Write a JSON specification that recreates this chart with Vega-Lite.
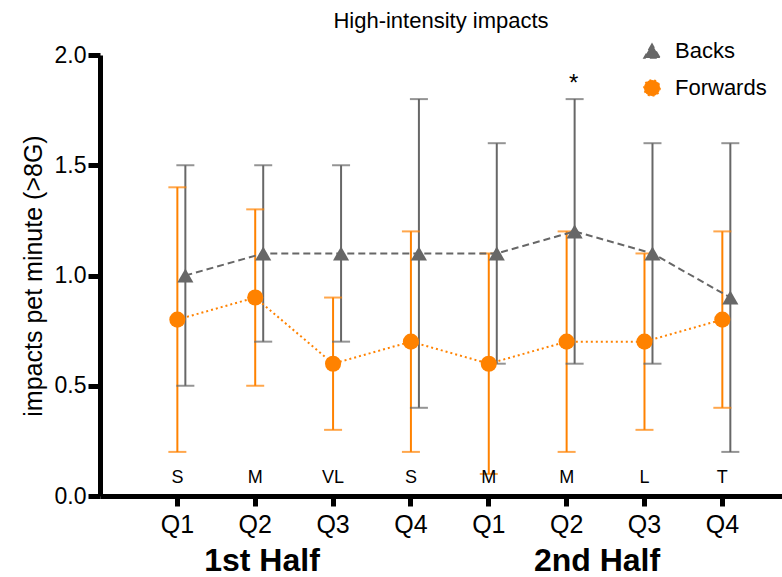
{
  "$schema": "https://vega.github.io/schema/vega-lite/v6.json",
  "autosize": {"type": "none"},
  "width": 682,
  "height": 441,
  "padding": {"left": 100, "top": 55, "right": 0, "bottom": 81},
  "config": {"view": {"stroke": null}, "font": "Liberation Sans"},
  "title": {"text": "High-intensity impacts", "fontSize": 22, "fontWeight": "normal", "font": "Liberation Sans", "anchor": "middle", "offset": 7, "color": "black"},
  "layer": [
    {
      "data": {"values": [
        {"cat": "1Q1", "group": "Forwards", "mean": 0.8, "lo": 0.2, "hi": 1.4},
        {"cat": "1Q2", "group": "Forwards", "mean": 0.9, "lo": 0.5, "hi": 1.3},
        {"cat": "1Q3", "group": "Forwards", "mean": 0.6, "lo": 0.3, "hi": 0.9},
        {"cat": "1Q4", "group": "Forwards", "mean": 0.7, "lo": 0.2, "hi": 1.2},
        {"cat": "2Q1", "group": "Forwards", "mean": 0.6, "lo": 0.1, "hi": 1.1},
        {"cat": "2Q2", "group": "Forwards", "mean": 0.7, "lo": 0.2, "hi": 1.2},
        {"cat": "2Q3", "group": "Forwards", "mean": 0.7, "lo": 0.3, "hi": 1.1},
        {"cat": "2Q4", "group": "Forwards", "mean": 0.8, "lo": 0.4, "hi": 1.2},
        {"cat": "1Q1", "group": "Backs", "mean": 1.0, "lo": 0.5, "hi": 1.5},
        {"cat": "1Q2", "group": "Backs", "mean": 1.1, "lo": 0.7, "hi": 1.5},
        {"cat": "1Q3", "group": "Backs", "mean": 1.1, "lo": 0.7, "hi": 1.5},
        {"cat": "1Q4", "group": "Backs", "mean": 1.1, "lo": 0.4, "hi": 1.8},
        {"cat": "2Q1", "group": "Backs", "mean": 1.1, "lo": 0.6, "hi": 1.6},
        {"cat": "2Q2", "group": "Backs", "mean": 1.2, "lo": 0.6, "hi": 1.8},
        {"cat": "2Q3", "group": "Backs", "mean": 1.1, "lo": 0.6, "hi": 1.6},
        {"cat": "2Q4", "group": "Backs", "mean": 0.9, "lo": 0.2, "hi": 1.6}
      ]},
      "encoding": {
        "x": {
          "field": "cat", "type": "nominal",
          "scale": {"type": "band", "domain": ["1Q1", "1Q2", "1Q3", "1Q4", "2Q1", "2Q2", "2Q3", "2Q4"], "paddingInner": 0, "paddingOuter": 0.38, "align": 0.65},
          "axis": {"title": null, "labelExpr": "substring(datum.label, 1)", "labelAngle": 0, "labelFontSize": 25, "labelColor": "black", "labelPadding": 6, "tickSize": 10, "tickWidth": 5, "tickColor": "black", "domainColor": "black", "domainWidth": 5, "labelFont": "Liberation Sans"}
        }
      },
      "layer": [
        {
          "mark": {"type": "rule", "strokeWidth": 2},
          "encoding": {
            "xOffset": {"field": "group", "type": "nominal", "scale": {"type": "point", "domain": ["Forwards", "Backs"], "range": [38.9, 46.9], "padding": 0}},
            "y": {"field": "lo", "type": "quantitative", "scale": {"domain": [0, 2], "nice": false},
              "axis": {"title": "impacts pet minute (>8G)", "values": [0, 0.5, 1, 1.5, 2], "format": ".1f", "grid": false, "tickSize": 12, "tickWidth": 5, "tickColor": "black", "domainColor": "black", "domainWidth": 5, "labelFontSize": 23, "labelPadding": 2, "labelColor": "black", "labelOverlap": false, "titleFontSize": 25, "titleFontWeight": "normal", "titlePadding": 8, "titleColor": "black", "labelFont": "Liberation Sans", "titleFont": "Liberation Sans"}},
            "y2": {"field": "hi"},
            "color": {"field": "group", "type": "nominal", "scale": {"domain": ["Backs", "Forwards"], "range": ["#676767", "#FF8200"]}}
          }
        },
        {
          "mark": {"type": "tick", "thickness": 2, "size": 18, "orient": "horizontal"},
          "encoding": {
            "xOffset": {"field": "group", "type": "nominal"},
            "y": {"field": "lo", "type": "quantitative"},
            "color": {"field": "group", "type": "nominal"}
          }
        },
        {
          "mark": {"type": "tick", "thickness": 2, "size": 18, "orient": "horizontal"},
          "encoding": {
            "xOffset": {"field": "group", "type": "nominal"},
            "y": {"field": "hi", "type": "quantitative"},
            "color": {"field": "group", "type": "nominal"}
          }
        },
        {
          "mark": {"type": "line", "strokeWidth": 2},
          "encoding": {
            "xOffset": {"field": "group", "type": "nominal"},
            "y": {"field": "mean", "type": "quantitative"},
            "color": {"field": "group", "type": "nominal"},
            "strokeDash": {"field": "group", "type": "nominal", "scale": {"domain": ["Backs", "Forwards"], "range": [[7, 4], [2, 3]]}, "legend": null}
          }
        },
        {
          "mark": {"type": "point", "filled": true, "size": 260, "opacity": 1},
          "encoding": {
            "xOffset": {"field": "group", "type": "nominal"},
            "y": {"field": "mean", "type": "quantitative"},
            "color": {"field": "group", "type": "nominal",
              "legend": {"title": null, "orient": "none", "legendX": 541, "legendY": -15, "labelFontSize": 22, "labelFont": "Liberation Sans", "symbolSize": 260, "symbolOpacity": 1, "rowPadding": 14, "labelOffset": 12, "labelColor": "black",
                "encode": {"symbols": {"update": {"opacity": {"value": 1}, "fillOpacity": {"value": 1}}}}}},
            "shape": {"field": "group", "type": "nominal", "scale": {"domain": ["Backs", "Forwards"], "range": ["triangle-up", "circle"]},
              "legend": {"title": null, "orient": "none", "legendX": 541, "legendY": -15, "labelFontSize": 22, "labelFont": "Liberation Sans", "symbolSize": 260, "symbolOpacity": 1, "rowPadding": 14, "labelOffset": 12, "labelColor": "black",
                "encode": {"symbols": {"update": {"opacity": {"value": 1}, "fillOpacity": {"value": 1}}}}}}
          }
        },
        {
          "data": {"values": [
            {"cat": "1Q1", "eff": "S"}, {"cat": "1Q2", "eff": "M"}, {"cat": "1Q3", "eff": "VL"}, {"cat": "1Q4", "eff": "S"},
            {"cat": "2Q1", "eff": "M"}, {"cat": "2Q2", "eff": "M"}, {"cat": "2Q3", "eff": "L"}, {"cat": "2Q4", "eff": "T"}
          ]},
          "mark": {"type": "text", "fontSize": 18, "baseline": "middle", "color": "black", "font": "Liberation Sans"},
          "encoding": {
            "y": {"datum": 0.08, "type": "quantitative"},
            "text": {"field": "eff"}
          }
        },
        {
          "data": {"values": [{"cat": "2Q2", "sig": "*"}]},
          "mark": {"type": "text", "fontSize": 24, "baseline": "middle", "dx": 7, "dy": 7, "color": "black", "font": "Liberation Sans"},
          "encoding": {
            "y": {"datum": 1.9, "type": "quantitative"},
            "text": {"field": "sig"}
          }
        }
      ]
    },
    {
      "data": {"values": [{"half": "1st Half"}, {"half": "2nd Half"}]},
      "mark": {"type": "text", "opacity": 0},
      "encoding": {
        "x": {"field": "half", "type": "nominal",
          "scale": {"type": "band", "domain": ["1st Half", "2nd Half"], "paddingInner": 0.5, "paddingOuter": 0.268, "align": 0.436},
          "axis": {"orient": "bottom", "title": null, "domain": false, "ticks": false, "labelAngle": 0, "labelFontSize": 32, "labelFontWeight": "bold", "labelColor": "black", "labelBaseline": "alphabetic", "labelPadding": 74, "labelFont": "Liberation Sans"}},
        "text": {"value": " "}
      }
    }
  ],
  "resolve": {"scale": {"x": "independent"}, "axis": {"x": "independent"}}
}
